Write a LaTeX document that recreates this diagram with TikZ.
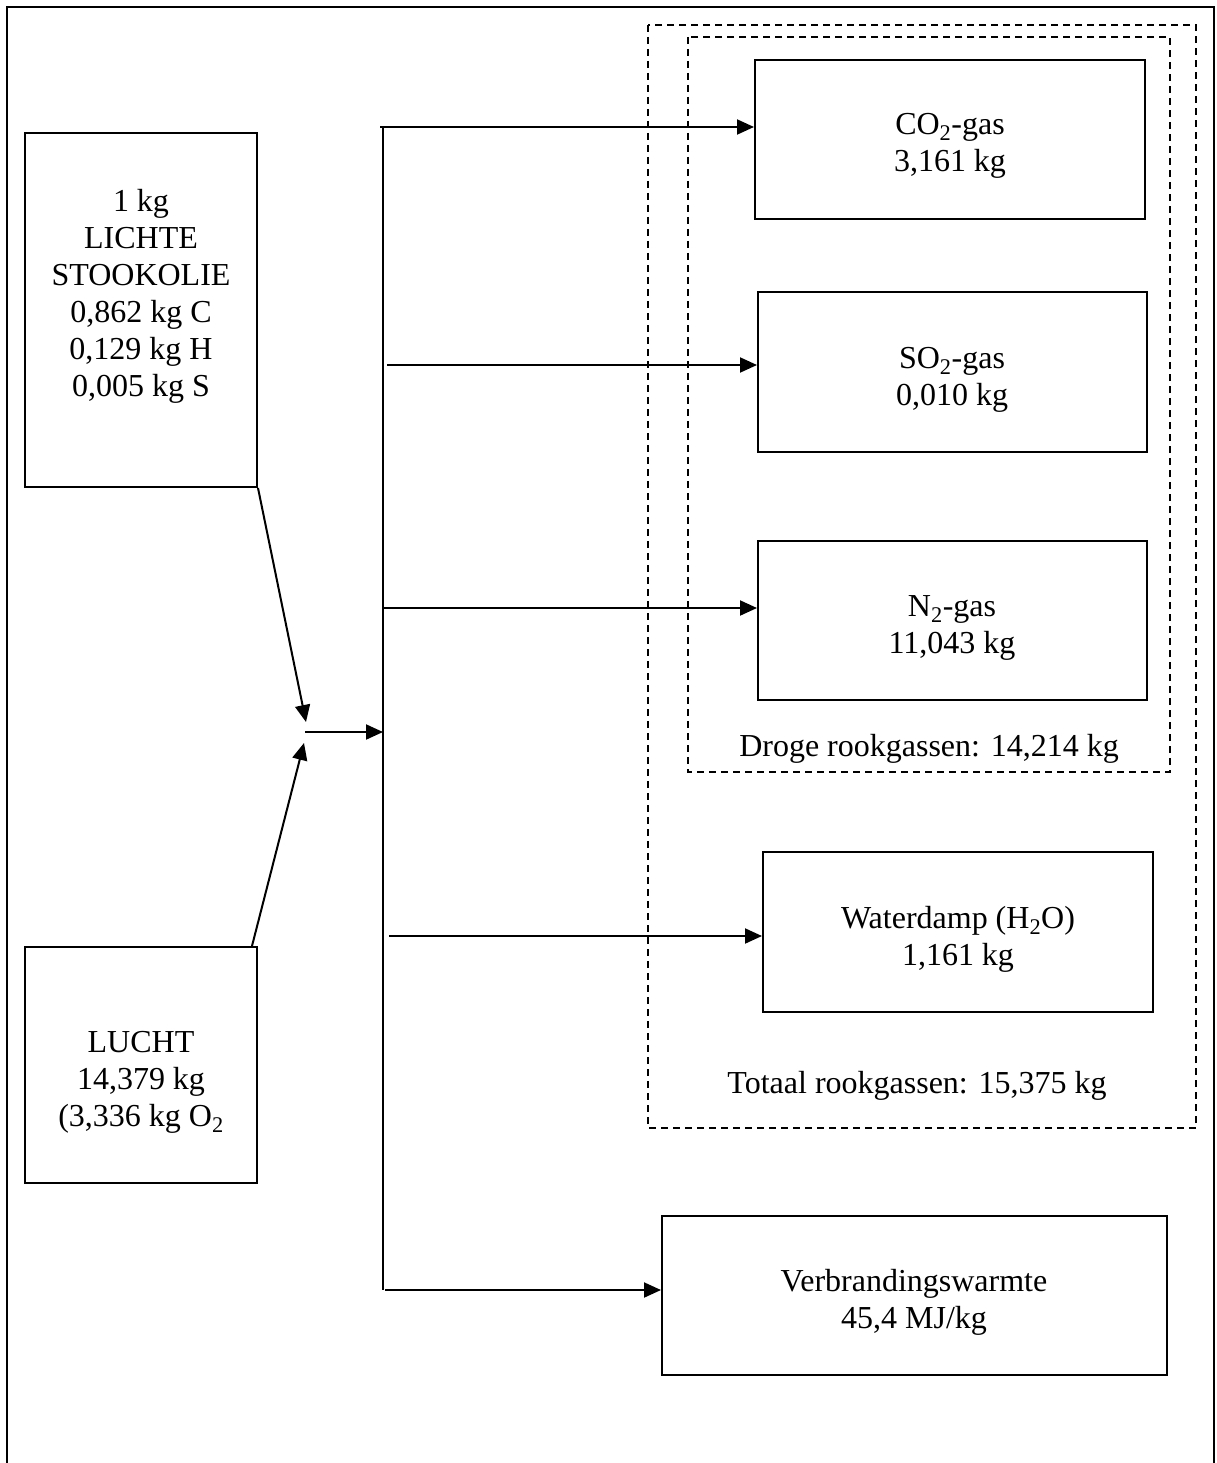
\documentclass[tikz,border=0pt]{standalone}
\usepackage{fontspec}
\setmainfont{Liberation Serif}
\usetikzlibrary{arrows.meta}
\tikzset{
  box/.style={draw,rectangle,inner sep=0pt},
  txt/.style={align=center,inner sep=0pt,font=\fontsize{32}{37}\selectfont},
  group/.style={draw,dash pattern=on 7pt off 5pt},
  flow/.style={-{Triangle[length=17pt,width=15pt]}}
}
\begin{document}
\begin{tikzpicture}[x=1pt,y=-1pt,line width=2pt]
      \useasboundingbox (0,0) rectangle (1216,1463);
      \draw (7,1463) -- (7,7) -- (1214,7) -- (1214,1463);
      % inputs
      \node[box,minimum width=232pt,minimum height=354pt] (oil) at (141,310) {};
      \node[txt] (oiltxt) at (141,296) {1 kg\\LICHTE\\STOOKOLIE\\0,862 kg C\\0,129 kg H\\0,005 kg S};
      \node[box,minimum width=232pt,minimum height=236pt] (air) at (141,1065) {};
      \node[txt] (airtxt) at (141,1082) {LUCHT\\14,379 kg\\(3,336 kg O\textsubscript{2}};
      % products
      \node[box,minimum width=390pt,minimum height=159pt] (co2) at (950,140) {};
      \node[txt] at (950,146) {CO\textsubscript{2}-gas\\3,161 kg};
      \node[box,minimum width=389pt,minimum height=160pt] (so2) at (952.5,372) {};
      \node[txt] at (952,380) {SO\textsubscript{2}-gas\\0,010 kg};
      \node[box,minimum width=389pt,minimum height=159pt] (n2) at (952.5,620) {};
      \node[txt] at (952,628) {N\textsubscript{2}-gas\\11,043 kg};
      \node[box,minimum width=390pt,minimum height=160pt] (h2o) at (958,932) {};
      \node[txt] at (958,939) {Waterdamp (H\textsubscript{2}O)\\1,161 kg};
      \node[box,minimum width=505pt,minimum height=159pt] (heat) at (914.5,1295) {};
      \node[txt] at (914,1302) {Verbrandingswarmte\\45,4 MJ/kg};
      % groups
      \draw[group] (688,37) rectangle (1170,772);
      \node[txt] (dry) at (929,749) {Droge rookgassen: 14,214 kg};
      \draw[group] (648,25) rectangle (1196,1128);
      \node[txt] (total) at (917,1086) {Totaal rookgassen: 15,375 kg};
      % connectors
      \coordinate (mix) at (305,732);
      \coordinate (bustop) at (383,127);
      \coordinate (busbot) at (383,1290);
      \coordinate (t1) at (380,127);
      \coordinate (t2) at (387,365);
      \coordinate (t3) at (383,608);
      \coordinate (t4) at (389,936);
      \coordinate (t5) at (385,1290);
      \begin{scope}[flow]
        \draw (oil.south east) -- (306,722);
        \draw ([xshift=-6pt]air.north east) -- (304,743);
        \draw (mix) -- (mix -| bustop);
        \draw (t1) -- (t1 -| co2.west);
        \draw (t2) -- (t2 -| so2.west);
        \draw (t3) -- (t3 -| n2.west);
        \draw (t4) -- (t4 -| h2o.west);
        \draw (t5) -- (t5 -| heat.west);
      \end{scope}
      \draw (bustop) -- (busbot);
    \end{tikzpicture}
\end{document}
